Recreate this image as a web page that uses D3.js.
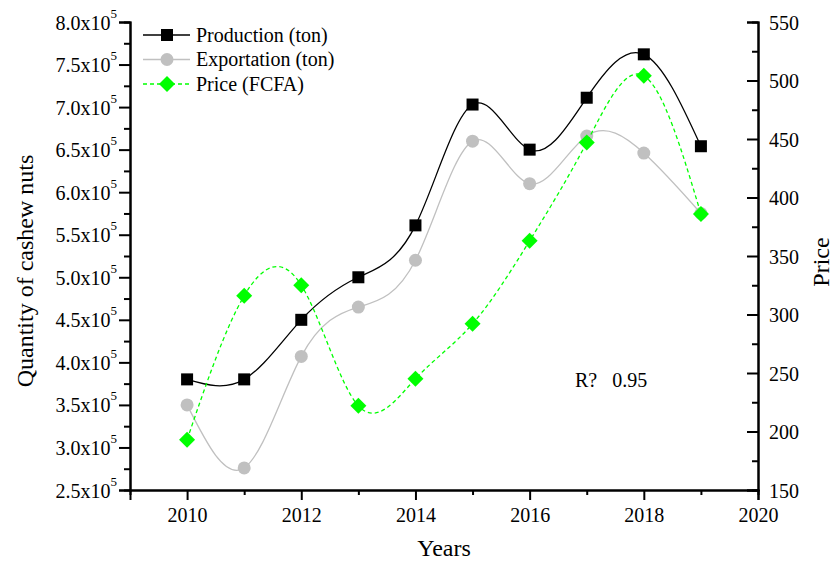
<!DOCTYPE html>
<html>
<head>
<meta charset="utf-8">
<script src="https://cdn.jsdelivr.net/npm/d3@7/dist/d3.min.js"></script>
<style>
  html, body { margin: 0; padding: 0; background: #fff; }
  svg { display: block; }
  svg text { font-family: "Liberation Serif", "Times New Roman", serif; }
</style>
</head>
<body>
<svg id="chart" width="835" height="561"></svg>
<script>
// Cashew nut production, exports and farm-gate price, 2010–2019
const years = [2010, 2011, 2012, 2013, 2014, 2015, 2016, 2017, 2018, 2019];
const production = [380000, 380000, 450000, 500000, 561000, 703000, 650000, 711000, 762000, 654000];
const exportation = [350000, 276000, 407000, 465000, 520000, 660000, 610000, 666000, 646000, 575000];
const price = [193, 316, 325, 222, 245, 292, 363, 447, 504, 386];

const leftTicks = [250000, 300000, 350000, 400000, 450000, 500000, 550000, 600000, 650000, 700000, 750000, 800000];
const rightTicks = [150, 200, 250, 300, 350, 400, 450, 500, 550];
const xTicks = [2010, 2012, 2014, 2016, 2018, 2020];
const legendLabels = ["Production (ton)", "Exportation (ton)", "Price (FCFA)"];
const fitLabel = "R?   0.95";

const svg = d3.select("#chart");
const plot = { left: 130, right: 758, top: 22, bottom: 490 };

const x = d3.scaleLinear().domain([2009, 2020]).range([plot.left, plot.right]);
const yL = d3.scaleLinear().domain([250000, 800000]).range([plot.bottom, plot.top]);
const yR = d3.scaleLinear().domain([150, 550]).range([plot.bottom, plot.top]);

const fontSize = 20;
const serif = '"Liberation Serif", "Times New Roman", serif';

// ---- axes ----
function styleAxis(g) {
  g.attr("font-family", serif).attr("font-size", null);
  g.selectAll("path.domain").attr("stroke", "#000").attr("stroke-width", 2);
  g.selectAll(".tick line").attr("stroke", "#000").attr("stroke-width", 2);
}

// minor ticks (drawn first, no labels)
svg.append("g")
  .attr("transform", `translate(${plot.left},0)`)
  .call(d3.axisLeft(yL).tickValues(d3.range(275000, 800000, 50000)).tickSize(6).tickFormat(""))
  .call(styleAxis);
svg.append("g")
  .attr("transform", `translate(${plot.right},0)`)
  .call(d3.axisLeft(yR).tickValues(d3.range(175, 550, 50)).tickSize(6).tickFormat(""))
  .call(styleAxis);
svg.append("g")
  .attr("transform", `translate(0,${plot.bottom})`)
  .call(d3.axisBottom(x).tickValues(d3.range(2011, 2020, 2)).tickSize(5).tickFormat(""))
  .call(styleAxis);

// left axis, labels like 8.0x10^5
const gL = svg.append("g")
  .attr("transform", `translate(${plot.left},0)`)
  .call(d3.axisLeft(yL).tickValues(leftTicks).tickSize(11).tickFormat(""))
  .call(styleAxis);
gL.selectAll(".tick").each(function(d) {
  const t = d3.select(this).append("text")
    .attr("x", -13).attr("y", 7)
    .attr("text-anchor", "end")
    .attr("fill", "#000")
    .style("font-family", serif)
    .style("font-size", fontSize + "px")
    .text((d / 100000).toFixed(1) + "x10");
  t.append("tspan").attr("dy", -12).style("font-size", "13px").text("5");
});

// right axis (ticks pointing inward)
const gR = svg.append("g")
  .attr("transform", `translate(${plot.right},0)`)
  .call(d3.axisLeft(yR).tickValues(rightTicks).tickSize(11).tickFormat(""))
  .call(styleAxis);
gR.selectAll(".tick").append("text")
  .attr("x", 11).attr("dy", "0.35em")
  .attr("text-anchor", "start")
  .attr("fill", "#000")
  .style("font-family", serif)
  .style("font-size", fontSize + "px")
  .text(d => d);

// bottom axis
const gB = svg.append("g")
  .attr("transform", `translate(0,${plot.bottom})`)
  .call(d3.axisBottom(x).tickValues(xTicks).tickSize(10).tickFormat(""))
  .call(styleAxis);
gB.selectAll(".tick").append("text")
  .attr("y", 32)
  .attr("text-anchor", "middle")
  .attr("fill", "#000")
  .style("font-family", serif)
  .style("font-size", fontSize + "px")
  .text(d => d);

// axis titles
svg.append("text")
  .attr("transform", "translate(33,271) rotate(-90)")
  .attr("text-anchor", "middle")
  .style("font-size", "24px")
  .text("Quantity of cashew nuts");
svg.append("text")
  .attr("transform", "translate(829,262) rotate(-90)")
  .attr("text-anchor", "middle")
  .style("font-size", "24px")
  .text("Price");
svg.append("text")
  .attr("x", 444).attr("y", 556)
  .attr("text-anchor", "middle")
  .style("font-size", "24px")
  .text("Years");

// ---- series ----
const series = [
  { values: production, y: yL, color: "#000000", dash: null, symbol: "square" },
  { values: exportation, y: yL, color: "#c0c0c0", dash: null, symbol: "circle" },
  { values: price, y: yR, color: "#00ff00", dash: "4,3", symbol: "diamond" }
];

function drawSymbol(g, kind, color) {
  if (kind === "square") {
    g.append("rect").attr("x", -6).attr("y", -6).attr("width", 12).attr("height", 12).attr("fill", color);
  } else if (kind === "circle") {
    g.append("circle").attr("r", 6.5).attr("fill", color);
  } else {
    g.append("path").attr("d", "M0,-8L8,0L0,8L-8,0Z").attr("fill", color);
  }
}

series.forEach(s => {
  const pts = years.map((yr, i) => [yr, s.values[i]]);
  const line = d3.line().x(d => x(d[0])).y(d => s.y(d[1])).curve(d3.curveNatural);
  svg.append("path")
    .attr("d", line(pts))
    .attr("fill", "none")
    .attr("stroke", s.color)
    .attr("stroke-width", 1.3)
    .attr("stroke-dasharray", s.dash);
  svg.append("g").selectAll("g").data(pts).join("g")
    .attr("transform", d => `translate(${x(d[0])},${s.y(d[1])})`)
    .each(function() { drawSymbol(d3.select(this), s.symbol, s.color); });
});

// ---- legend ----
const legend = svg.append("g").attr("transform", "translate(143,35)");
series.forEach((s, i) => {
  const row = legend.append("g").attr("transform", `translate(0,${i * 24.5})`);
  row.append("line")
    .attr("x1", 0).attr("x2", 47)
    .attr("stroke", s.color).attr("stroke-width", 1.3)
    .attr("stroke-dasharray", s.dash);
  drawSymbol(row.append("g").attr("transform", "translate(24,0)"), s.symbol, s.color);
  row.append("text")
    .attr("x", 53).attr("dy", "0.33em")
    .style("font-size", fontSize + "px")
    .text(legendLabels[i]);
});

// fit annotation
svg.append("text")
  .attr("x", 575).attr("y", 387)
  .style("font-size", fontSize + "px")
  .style("white-space", "pre")
  .text(fitLabel);
</script>
</body>
</html>
